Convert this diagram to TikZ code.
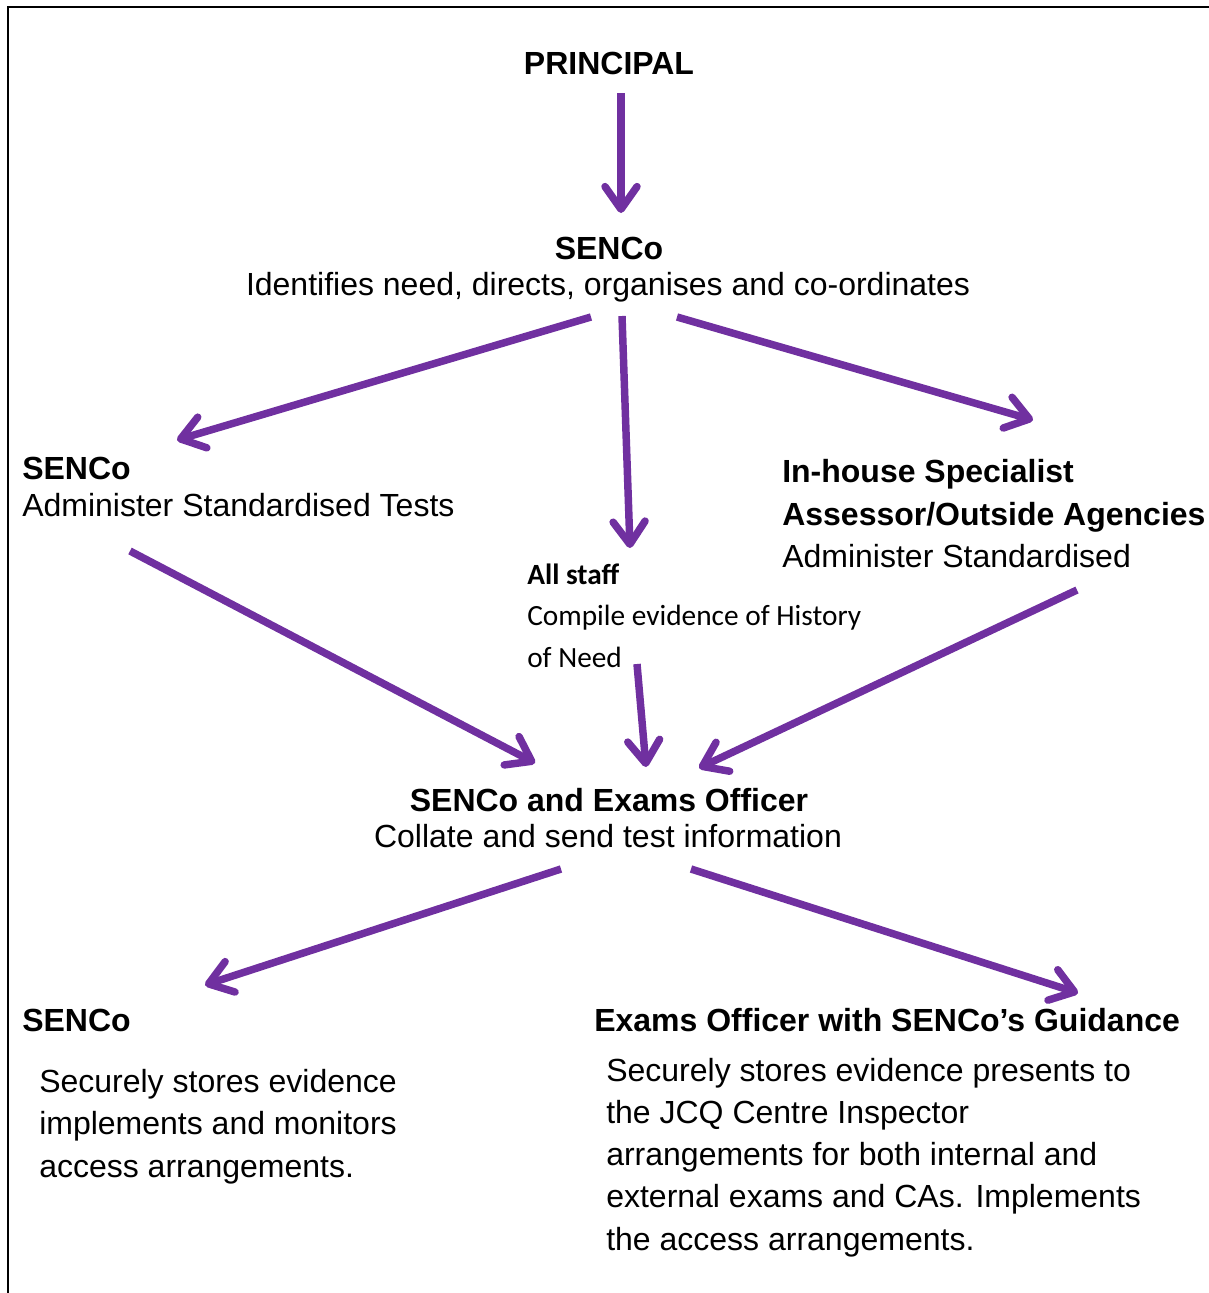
\documentclass[tikz,border=0pt]{standalone}
\usepackage{fontspec}
\setmainfont{Liberation Sans}
\newfontfamily\calibri{Carlito}
\usepackage{graphicx}
\usetikzlibrary{arrows.meta}
\definecolor{flowpurple}{HTML}{7030A0}
\begin{document}
\begin{tikzpicture}[x=0.75pt,y=-0.75pt,
  txt/.style={inner sep=0pt, font=\fontsize{24}{31.5}\selectfont},
  ttl/.style={inner sep=0pt, font=\fontsize{24}{31.5}\selectfont\bfseries},
  cal/.style={inner sep=0pt, font=\calibri\fontsize{22}{30}\selectfont},
  calb/.style={inner sep=0pt, font=\calibri\fontsize{22}{30}\selectfont\bfseries},
  flow/.style={draw=flowpurple, line width=5.6pt, -{Straight Barb[length=17pt,width=24pt,round]}},
  ]
\useasboundingbox (0,0) rectangle (1209,1293);
\draw[line width=1.7pt] (1209,7) -- (8,7) -- (8,1293);

% texts
\node[ttl, anchor=base] (principal) at (609,74) {PRINCIPAL};
\node[ttl, anchor=base] (senco1) at (609,259) {SENCo};
\node[txt, anchor=base] (senco1d) at (608,295) {Identifies need, directs, organises and co-ordinates};

\node[ttl, anchor=base west] (senco2) at (22,479) {SENCo};
\node[txt, anchor=base west] (senco2d) at (22,516) {Administer Standardised Tests};

\node[ttl, anchor=base west] (spec1) at (782,482) {In-house Specialist};
\node[ttl, anchor=base west] (spec2) at (782,525) {Assessor/Outside Agencies};
\node[txt, anchor=base west] (spec3) at (782,567) {Administer Standardised};

\node[calb, anchor=base west] (staff1) at (527,584) {All staff};
\node[cal, anchor=base west] (staff2) at (527,625) {Compile evidence of History};
\node[cal, anchor=base west] (staff3) at (527,667) {of Need};

\node[ttl, anchor=base] (exo1) at (609,811) {SENCo and Exams Officer};
\node[txt, anchor=base] (exo2) at (608,847) {Collate and send test information};

\node[ttl, anchor=base west] (senco3) at (22,1031) {SENCo};
\node[txt, anchor=base west] (l1) at (39,1092) {Securely stores evidence};
\node[txt, anchor=base west] (l2) at (39,1134) {implements and monitors};
\node[txt, anchor=base west] (l3) at (39,1177) {access arrangements.};

\node[ttl, anchor=base west] (eo1) at (594,1031) {Exams Officer with SENCo’s Guidance};
\node[txt, anchor=base west] (r1) at (606,1081) {Securely stores evidence presents to};
\node[txt, anchor=base west] (r2) at (606,1123) {the JCQ Centre Inspector};
\node[txt, anchor=base west] (r3) at (606,1165) {arrangements for both internal and};
\node[txt, anchor=base west] (r4) at (606,1207) {external exams and CAs. Implements};
\node[txt, anchor=base west] (r5) at (606,1250) {the access arrangements.};

% arrow end points
\coordinate (a1s) at (621,93);   \coordinate (a1e) at (621,213);
\coordinate (a2s) at (591,317);  \coordinate (a2e) at (177,440);
\coordinate (a3s) at (622,316);  \coordinate (a3e) at (630,548);
\coordinate (a4s) at (677,317);  \coordinate (a4e) at (1033,420);
\coordinate (a5s) at (130,551);  \coordinate (a5e) at (535,763);
\coordinate (a6s) at (637,664);  \coordinate (a6e) at (646,767);
\coordinate (a7s) at (1077,590); \coordinate (a7e) at (699,768);
\coordinate (a8s) at (561,869);  \coordinate (a8e) at (205,985);
\coordinate (a9s) at (691,869);  \coordinate (a9e) at (1078,993);

\draw[flow] (a1s) -- (a1e);
\draw[flow] (a2s) -- (a2e);
\draw[flow] (a3s) -- (a3e);
\draw[flow] (a4s) -- (a4e);
\draw[flow] (a5s) -- (a5e);
\draw[flow] (a6s) -- (a6e);
\draw[flow] (a7s) -- (a7e);
\draw[flow] (a8s) -- (a8e);
\draw[flow] (a9s) -- (a9e);
\end{tikzpicture}
\end{document}
